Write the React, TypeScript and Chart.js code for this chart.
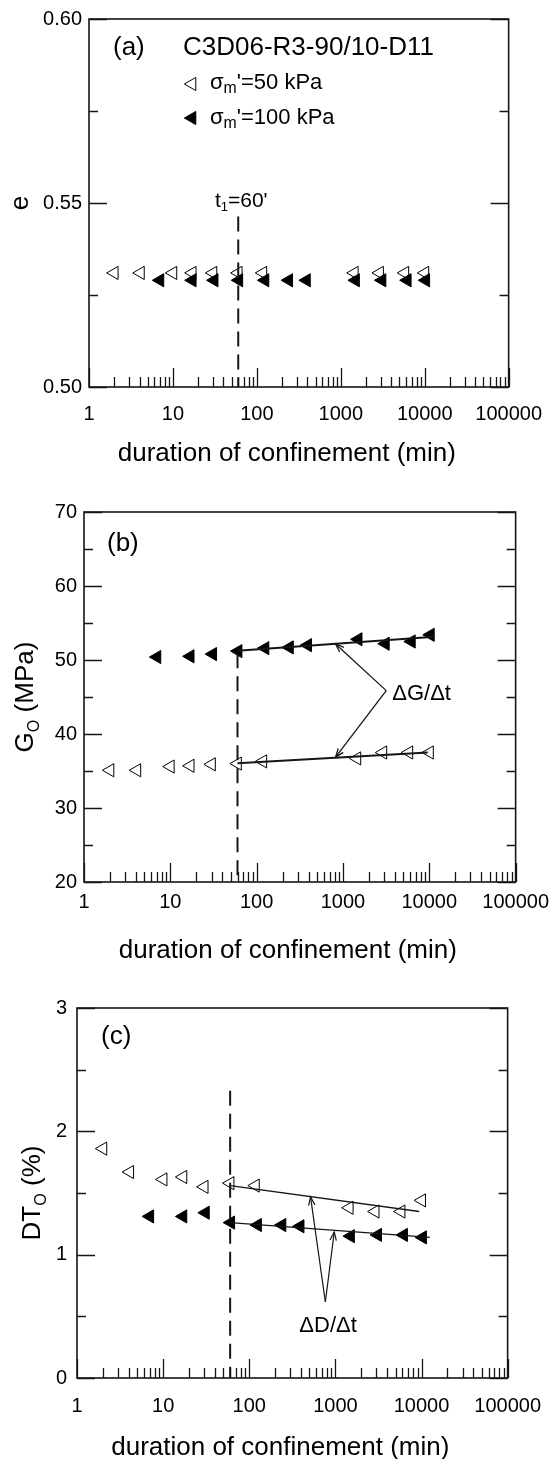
import React, { useEffect, useRef } from 'react';
import { Chart, registerables } from 'chart.js';

Chart.register(...registerables);

const FONT = '"Liberation Sans", Arial, Helvetica, sans-serif';
const INK = '#000';
const LINE = '#151515';
const W = 557;

// ---- data ----
// duration of confinement (min)
const time50 = [2, 4.1, 10, 17, 30, 60, 118, 1450, 2900, 5800, 10050];
const time100 = [7, 17, 31, 61, 125, 240, 390, 1500, 3100, 6200, 10300];

// (a) void ratio e
const e50 = [0.531, 0.531, 0.531, 0.531, 0.531, 0.531, 0.531, 0.531, 0.531, 0.531, 0.531];
const e100 = [0.529, 0.529, 0.529, 0.529, 0.529, 0.529, 0.529, 0.529, 0.529, 0.529, 0.529];

// (b) G0 (MPa)
const g50 = [35.1, 35.1, 35.6, 35.7, 35.9, 36.0, 36.3, 36.7, 37.5, 37.5, 37.5];
const g100 = [50.4, 50.5, 50.8, 51.2, 51.6, 51.7, 52.0, 52.8, 52.2, 52.5, 53.4];

// (c) DT0 (%)
const d50 = [1.86, 1.67, 1.61, 1.63, 1.55, 1.58, 1.56, 1.38, 1.35, 1.35, 1.44];
const d100 = [1.31, 1.31, 1.34, 1.26, 1.24, 1.24, 1.23, 1.15, 1.16, 1.16, 1.14];

// fitted trend lines [x0, x1], [y0, y1]
const gFit50X = [60, 9600];
const gFit50Y = [36.05, 37.5];
const gFit100X = [60, 11500];
const gFit100Y = [51.25, 53.15];
const dFit50X = [60, 9400];
const dFit50Y = [1.56, 1.35];
const dFit100X = [60, 12500];
const dFit100Y = [1.26, 1.14];

// t1 = 60 min marker lines [top, bottom]
const t1 = 60;
const t1LineA = [0.5463, 0.5];
const t1LineB = [50.9, 20];
const t1LineC = [2.33, 0];
const t1LabelY = 0.5511;

// annotation arrows (data coords)
const gArrowApex = [3170, 45.86];
const gArrowTips = [[821, 52.16], [821, 36.87]];
const gArrowText = [3720, 45.6];
const dArrowApex = [765, 0.616];
const dArrowTips = [[515, 1.468], [970, 1.184]];
const dArrowText = [822, 0.441];

// ticks
const xTicks = [1, 10, 100, 1000, 10000, 100000];
const eTicks = [0.5, 0.55, 0.6];
const eMinor = [0.525, 0.575];
const gTicks = [20, 30, 40, 50, 60, 70];
const gMinor = [25, 35, 45, 55, 65];
const dTicks = [0, 1, 2, 3];
const dMinor = [0.5, 1.5, 2.5];

const xTitle = 'duration of confinement (min)';

type Seg = [string, boolean?];

function rich(
  ctx: CanvasRenderingContext2D,
  segs: Seg[],
  x: number,
  y: number,
  size: number,
  align: 'left' | 'center' = 'left',
  rot = 0,
  subScale = 0.62
) {
  ctx.save();
  ctx.translate(x, y);
  if (rot) ctx.rotate(rot);
  const sub = size * subScale;
  const widths = segs.map(([t, s]) => {
    ctx.font = `${s ? sub : size}px ${FONT}`;
    return ctx.measureText(t).width;
  });
  const total = widths.reduce((a, b) => a + b, 0);
  let cx = align === 'center' ? -total / 2 : 0;
  ctx.textAlign = 'left';
  ctx.textBaseline = 'alphabetic';
  ctx.fillStyle = INK;
  segs.forEach(([t, s], i) => {
    ctx.font = `${s ? sub : size}px ${FONT}`;
    ctx.fillText(t, cx, s ? size * 0.36 + size * 0.2 : size * 0.36);
    cx += widths[i];
  });
  ctx.restore();
}

function arrow(ctx: CanvasRenderingContext2D, x0: number, y0: number, x1: number, y1: number, head = 9) {
  ctx.beginPath();
  ctx.moveTo(x0, y0);
  ctx.lineTo(x1, y1);
  ctx.stroke();
  const a = Math.atan2(y1 - y0, x1 - x0);
  ctx.beginPath();
  ctx.moveTo(x1 - head * Math.cos(a - 0.36), y1 - head * Math.sin(a - 0.36));
  ctx.lineTo(x1, y1);
  ctx.lineTo(x1 - head * Math.cos(a + 0.36), y1 - head * Math.sin(a + 0.36));
  ctx.stroke();
}

function tri(ctx: CanvasRenderingContext2D, x: number, y: number, r: number, filled: boolean) {
  ctx.beginPath();
  ctx.moveTo(x - r, y);
  ctx.lineTo(x + r / 2, y - (r * Math.sqrt(3)) / 2);
  ctx.lineTo(x + r / 2, y + (r * Math.sqrt(3)) / 2);
  ctx.closePath();
  ctx.lineWidth = 1;
  ctx.strokeStyle = INK;
  ctx.fillStyle = filled ? INK : '#fff';
  ctx.fill();
  ctx.stroke();
}

const pairs = (xs: number[], ys: number[]) => xs.map((x, i) => ({ x, y: ys[i] }));

const R = 7.6;
const hollow = (xs: number[], ys: number[]) => ({
  data: pairs(xs, ys),
  showLine: false,
  pointStyle: 'triangle',
  pointRotation: -90,
  pointRadius: R,
  pointBackgroundColor: '#fff',
  pointBorderColor: INK,
  pointBorderWidth: 1,
});
const filled = (xs: number[], ys: number[]) => ({
  data: pairs(xs, ys),
  showLine: false,
  pointStyle: 'triangle',
  pointRotation: -90,
  pointRadius: R,
  pointBackgroundColor: INK,
  pointBorderColor: INK,
  pointBorderWidth: 1,
});
const line = (xs: number[], ys: number[], width: number, dash: number[] = []) => ({
  data: pairs(xs, ys),
  showLine: true,
  borderColor: LINE,
  borderWidth: width,
  borderDash: dash,
  pointRadius: 0,
  fill: false,
});

interface PanelSpec {
  top: number;
  height: number;
  area: { left: number; top: number; right: number; bottom: number };
  yMin: number;
  yMax: number;
  yTicks: number[];
  yMinor: number[];
  yFmt: (v: number) => string;
  yPad: number;
  xPad: number;
  titleGap: number;
  datasets: any[];
  yTitle: Seg[];
  yTitleX: number;
  extras: (ctx: CanvasRenderingContext2D, ca: any, X: (v: number) => number, Y: (v: number) => number) => void;
}

const DASH = [15, 8];

const panels: PanelSpec[] = [
  {
    top: 0,
    height: 480,
    area: { left: 89, top: 16, right: 522, bottom: 387 },
    yMin: 0.5,
    yMax: 0.6,
    yTicks: eTicks,
    yMinor: eMinor,
    yFmt: (v) => v.toFixed(2),
    yPad: 7,
    xPad: 15,
    titleGap: 65,
    datasets: [line([t1, t1], t1LineA, 2, DASH), filled(time100, e100), hollow(time50, e50)],
    yTitle: [['e']],
    yTitleX: 19,
    extras: (ctx, ca, X, Y) => {
      rich(ctx, [['(a)']], ca.left + 24, ca.top + 27, 26);
      rich(ctx, [['C3D06-R3-90/10-D11']], ca.left + 94, ca.top + 27, 26);
      tri(ctx, ca.left + 103, ca.top + 65, R, false);
      tri(ctx, ca.left + 103, ca.top + 99, R, true);
      rich(ctx, [['σ'], ['m', true], ["'=50 kPa"]], ca.left + 121, ca.top + 62, 22, 'left', 0, 0.72);
      rich(ctx, [['σ'], ['m', true], ["'=100 kPa"]], ca.left + 121, ca.top + 97, 22, 'left', 0, 0.72);
      rich(ctx, [['t'], ['1', true], ["=60'"]], X(t1) + 3, Y(t1LabelY), 21, 'center');
    },
  },
  {
    top: 480,
    height: 490,
    area: { left: 84, top: 512, right: 516, bottom: 882 },
    yMin: 20,
    yMax: 70,
    yTicks: gTicks,
    yMinor: gMinor,
    yFmt: (v) => String(v),
    yPad: 7,
    xPad: 8,
    titleGap: 67,
    datasets: [
      line([t1, t1], t1LineB, 2, DASH),
      line(gFit100X, gFit100Y, 2),
      line(gFit50X, gFit50Y, 2),
      filled(time100, g100),
      hollow(time50, g50),
    ],
    yTitle: [['G'], ['O', true], [' (MPa)']],
    yTitleX: 24,
    extras: (ctx, ca, X, Y) => {
      rich(ctx, [['(b)']], ca.left + 23, ca.top + 30, 26);
      ctx.strokeStyle = LINE;
      ctx.lineWidth = 1.3;
      gArrowTips.forEach(([tx, ty]) => arrow(ctx, X(gArrowApex[0]), Y(gArrowApex[1]), X(tx), Y(ty)));
      rich(ctx, [['ΔG/Δt']], X(gArrowText[0]), Y(gArrowText[1]), 22);
    },
  },
  {
    top: 970,
    height: 489,
    area: { left: 77, top: 1008, right: 510, bottom: 1378 },
    yMin: 0,
    yMax: 3,
    yTicks: dTicks,
    yMinor: dMinor,
    yFmt: (v) => String(v),
    yPad: 10,
    xPad: 16,
    titleGap: 68,
    datasets: [
      line([t1, t1], t1LineC, 2, DASH),
      line(dFit100X, dFit100Y, 1.3),
      line(dFit50X, dFit50Y, 1.3),
      filled(time100, d100),
      hollow(time50, d50),
    ],
    yTitle: [['DT'], ['O', true], [' (%)']],
    yTitleX: 31,
    extras: (ctx, ca, X, Y) => {
      rich(ctx, [['(c)']], ca.left + 24, ca.top + 27, 26);
      ctx.strokeStyle = LINE;
      ctx.lineWidth = 1.2;
      dArrowTips.forEach(([tx, ty]) => arrow(ctx, X(dArrowApex[0]), Y(dArrowApex[1]), X(tx), Y(ty)));
      rich(ctx, [['ΔD/Δt']], X(dArrowText[0]), Y(dArrowText[1]), 22, 'center');
    },
  },
];

function makeChart(canvas: HTMLCanvasElement, p: PanelSpec) {
  const a = p.area;
  const padTop = a.top - p.top;
  const padRight = W - a.right;
  const yWidth = a.left;
  const xHeight = p.top + p.height - a.bottom;
  const tickFont = { family: FONT, size: 20 };
  const xMinor: number[] = [];
  for (let i = 0; i < xTicks.length - 1; i++) {
    for (let k = 2; k <= 9; k++) xMinor.push(xTicks[i] * k);
  }
  return new Chart(canvas, {
    type: 'scatter',
    data: { datasets: p.datasets },
    options: {
      responsive: false,
      animation: false,
      devicePixelRatio: 1,
      events: [],
      layout: { padding: { top: padTop, right: padRight, left: 0, bottom: 0 } },
      plugins: { legend: { display: false }, tooltip: { enabled: false } },
      scales: {
        x: {
          type: 'logarithmic',
          position: 'bottom',
          min: 1,
          max: 100000,
          grid: { display: false, drawTicks: false },
          border: { display: false },
          ticks: {
            autoSkip: false,
            maxRotation: 0,
            minRotation: 0,
            padding: p.xPad,
            color: INK,
            font: tickFont,
            callback: (v: any) => String(v),
          },
          afterBuildTicks: (s: any) => {
            s.ticks = xTicks.map((v) => ({ value: v }));
          },
          afterFit: (s: any) => {
            s.height = xHeight;
          },
        },
        y: {
          type: 'linear',
          position: 'left',
          min: p.yMin,
          max: p.yMax,
          grid: { display: false, drawTicks: false },
          border: { display: false },
          ticks: {
            padding: p.yPad,
            color: INK,
            font: tickFont,
            callback: (v: any) => p.yFmt(Number(v)),
          },
          afterBuildTicks: (s: any) => {
            s.ticks = p.yTicks.map((v) => ({ value: v }));
          },
          afterFit: (s: any) => {
            s.width = yWidth;
          },
        },
      },
    } as any,
    plugins: [
      {
        id: 'deco',
        afterDraw(chart: any) {
          const ctx: CanvasRenderingContext2D = chart.ctx;
          const ca = chart.chartArea;
          const xs = chart.scales.x;
          const ys = chart.scales.y;
          const X = (v: number) => xs.getPixelForValue(v);
          const Y = (v: number) => ys.getPixelForValue(v);
          ctx.save();
          ctx.strokeStyle = LINE;
          ctx.lineWidth = 1.6;
          ctx.strokeRect(ca.left, ca.top, ca.right - ca.left, ca.bottom - ca.top);
          ctx.lineWidth = 1.3;
          ctx.beginPath();
          xTicks.forEach((v) => {
            const px = Math.round(X(v)) + 0.5;
            ctx.moveTo(px, ca.bottom);
            ctx.lineTo(px, ca.bottom - 19);
          });
          xMinor.forEach((v) => {
            const px = Math.round(X(v)) + 0.5;
            ctx.moveTo(px, ca.bottom);
            ctx.lineTo(px, ca.bottom - 10);
          });
          p.yTicks.forEach((v) => {
            const py = Math.round(Y(v)) + 0.5;
            ctx.moveTo(ca.left, py);
            ctx.lineTo(ca.left + 18, py);
            ctx.moveTo(ca.right, py);
            ctx.lineTo(ca.right - 18, py);
          });
          p.yMinor.forEach((v) => {
            const py = Math.round(Y(v)) + 0.5;
            ctx.moveTo(ca.left, py);
            ctx.lineTo(ca.left + 9, py);
            ctx.moveTo(ca.right, py);
            ctx.lineTo(ca.right - 9, py);
          });
          ctx.stroke();

          // axis titles
          rich(ctx, [[xTitle]], (ca.left + ca.right) / 2 - 12, ca.bottom + p.titleGap, 26, 'center');
          rich(ctx, p.yTitle, p.yTitleX, (ca.top + ca.bottom) / 2, 26, 'center', -Math.PI / 2);

          p.extras(ctx, ca, X, Y);
          ctx.restore();
        },
      },
    ],
  });
}

function Panel({ spec }: { spec: PanelSpec }) {
  const ref = useRef<HTMLCanvasElement>(null);
  useEffect(() => {
    const chart = makeChart(ref.current as HTMLCanvasElement, spec);
    return () => chart.destroy();
  }, [spec]);
  return (
    <canvas
      ref={ref}
      width={W}
      height={spec.height}
      style={{ position: 'absolute', left: 0, top: spec.top, width: W, height: spec.height, display: 'block' }}
    />
  );
}

export default function App() {
  return (
    <div style={{ position: 'absolute', left: 0, top: 0, width: W, height: 1459, background: '#fff' }}>
      {panels.map((p, i) => (
        <Panel key={i} spec={p} />
      ))}
    </div>
  );
}
